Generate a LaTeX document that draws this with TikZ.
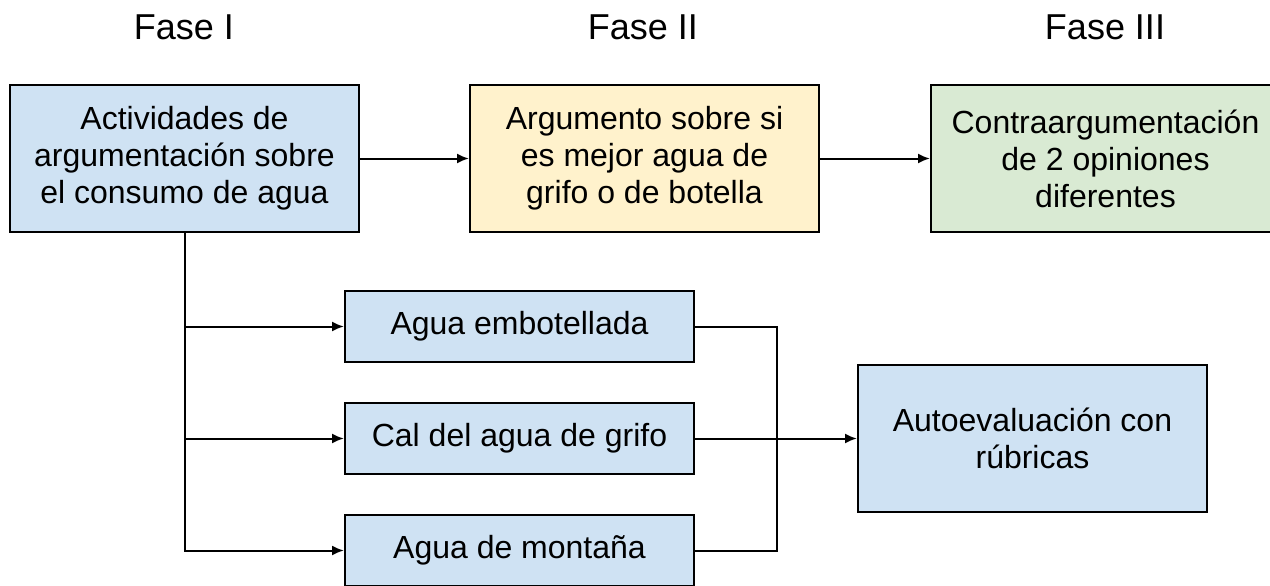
\documentclass[tikz,border=0pt]{standalone}
\usepackage{fontspec}
\setmainfont{Liberation Sans}
\usetikzlibrary{arrows.meta}
\definecolor{azul}{HTML}{CFE2F3}
\definecolor{amarillo}{HTML}{FFF2CC}
\definecolor{verde}{HTML}{D9EAD3}
\tikzset{
  caja/.style={draw, line width=1pt, minimum width=174.5pt, minimum height=73.5pt,
    align=center, inner sep=0pt, font=\fontsize{16}{18.5}\selectfont},
  cajita/.style={caja, minimum height=35.5pt},
  fase/.style={anchor=base, font=\fontsize{18}{21}\selectfont},
  flecha/.style={line width=1pt, -{Latex[length=6pt,width=5pt]}}
}
\begin{document}
\begin{tikzpicture}[x=0.5pt,y=-0.5pt]
    \useasboundingbox (0,0) rectangle (1270,585);

    \node[fase] (f1) at (184,39) {Fase I};
    \node[fase] (f2) at (643,39) {Fase II};
    \node[fase] (f3) at (1105,39) {Fase III};

    \node[caja, fill=azul] (act) at (184.5,158.5) {Actividades de\\argumentación sobre\\el consumo de agua};
    \node[caja, fill=amarillo] (arg) at (644.5,158.5) {Argumento sobre si\\es mejor agua de\\grifo o de botella};
    \node[caja, fill=verde] (contra) at (1105.5,158.5) {Contraargumentación\\de 2 opiniones\\diferentes};

    \node[cajita, fill=azul] (emb) at (519.5,326.5) {Agua embotellada};
    \node[cajita, fill=azul] (cal) at (519.5,438.5) {Cal del agua de grifo};
    \node[cajita, fill=azul] (mont) at (519.5,550.5) {Agua de montaña};
    \node[caja, fill=azul] (auto) at (1032.5,438.5) {Autoevaluación con\\rúbricas};

    \draw[flecha] (act) -- (arg);
    \draw[flecha] (arg) -- (contra);
    \foreach \n in {emb,cal,mont}
    \draw[flecha] (act.south) |- (\n.west);

    \coordinate (union) at (777,326.5);
    \draw[line width=1pt] (emb.east) -- (union) |- (mont.east);
    \draw[flecha] (cal.east) -- (auto.west);

\end{tikzpicture}
\end{document}
